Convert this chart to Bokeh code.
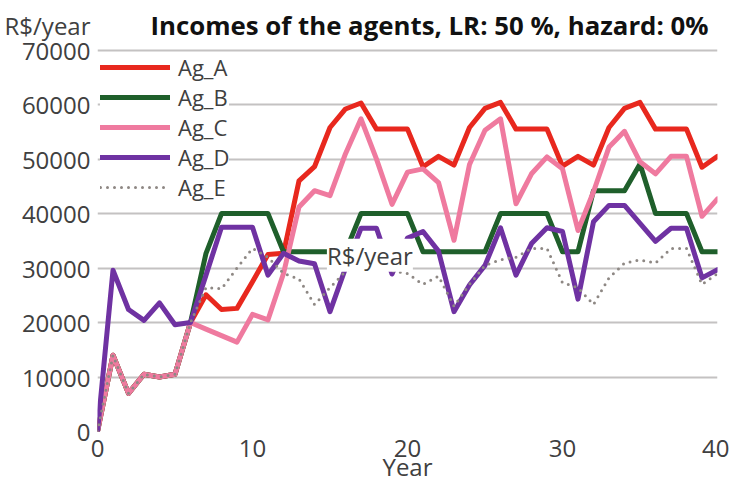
from bokeh.plotting import figure
from bokeh.models import Label, Range1d, FixedTicker, Legend, LegendItem
from bokeh.embed import file_html
from bokeh.resources import INLINE

years = list(range(41))
ag_a = [0, 14000, 7000, 10500, 10000, 10500, 20000, 25100, 22400, 22600, 27500,
        32500, 32700, 46000, 48600, 55800, 59200, 60300, 55500, 55500, 55500,
        48600, 50500, 48900, 55800, 59300, 60400, 55500, 55500, 55500, 48700,
        50500, 48900, 55800, 59300, 60400, 55500, 55500, 55500, 48500, 50500]
ag_b = [0, 14000, 7000, 10500, 10000, 10500, 20000, 32700, 40000, 40000, 40000,
        40000, 33000, 33000, 33000, 33000, 33000, 40000, 40000, 40000, 40000,
        33000, 33000, 33000, 33000, 33000, 40000, 40000, 40000, 40000, 33000,
        33000, 44200, 44200, 44200, 49100, 40000, 40000, 40000, 33000, 33000]
ag_c = [0, 14000, 7000, 10500, 10000, 10500, 20000, 18800, 17600, 16400, 21500,
        20500, 29000, 41200, 44200, 43300, 51000, 57400, 50000, 41700, 47600,
        48200, 45700, 35100, 49000, 55300, 57400, 41800, 47300, 50400, 48200,
        36900, 44000, 52200, 55100, 49500, 47300, 50500, 50500, 39500, 42700]
ag_d = [0, 29600, 22400, 20400, 23600, 19600, 20000, 28700, 37500, 37500, 37500,
        28700, 32700, 31300, 30800, 22000, 30000, 37300, 37300, 28900, 35500,
        36700, 33100, 22000, 26900, 30500, 37400, 28700, 34500, 37400, 36700,
        24300, 38500, 41500, 41500, 38200, 34900, 37300, 37300, 28200, 29700]
ag_e = [0, 14000, 7000, 10500, 10000, 10500, 20000, 26400, 26200, 30000, 33600,
        32000, 29000, 28000, 23300, 26400, 29400, 31000, 31000, 29500, 29000,
        27000, 28500, 23000, 27000, 30500, 31500, 32000, 33600, 33600, 27300,
        26400, 23300, 28200, 30900, 31500, 30900, 33600, 33600, 27000, 29000]

names = ["Ag_A", "Ag_B", "Ag_C", "Ag_D", "Ag_E"]
x_ticks = [0, 10, 20, 30, 40]
y_ticks = [0, 10000, 20000, 30000, 40000, 50000, 60000, 70000]

title_text = "Incomes of the agents, LR: 50 %, hazard: 0%"
unit_text = "R$/year"
x_label = "Year"

FONT = "Open Sans"
TXT = "#404040"

# the frame reaches up to the title row; the value axis still ends at 70000
Y_TOP = 77273
UNIT_Y = 74545

p = figure(width=729, height=485, output_backend="svg", toolbar_location=None,
           x_range=Range1d(0, 40), y_range=Range1d(0, Y_TOP),
           min_border_left=97, min_border_right=12, min_border_top=10,
           min_border_bottom=50)
p.outline_line_color = None
p.background_fill_color = "white"
p.border_fill_color = "white"

p.xgrid.visible = False
p.ygrid.grid_line_color = "#c4c2c2"
p.ygrid.grid_line_width = 2
p.ygrid.ticker = FixedTicker(ticks=y_ticks)

p.xaxis.ticker = FixedTicker(ticks=x_ticks)
p.xaxis.axis_line_color = None
p.xaxis.major_tick_line_color = None
p.xaxis.minor_tick_line_color = None
p.xaxis.major_tick_out = 0
p.xaxis.major_label_standoff = 8
p.xaxis.major_label_text_font = FONT
p.xaxis.major_label_text_font_size = "24px"
p.xaxis.major_label_text_color = TXT
p.xaxis.axis_label = x_label
p.xaxis.axis_label_text_font = FONT
p.xaxis.axis_label_text_font_size = "24px"
p.xaxis.axis_label_text_font_style = "normal"
p.xaxis.axis_label_text_color = TXT
p.xaxis.axis_label_standoff = -10

p.yaxis.ticker = FixedTicker(ticks=y_ticks + [UNIT_Y])
p.yaxis.major_label_overrides = {UNIT_Y: unit_text}
p.yaxis.axis_line_color = None
p.yaxis.major_tick_line_color = None
p.yaxis.major_tick_out = 0
p.yaxis.major_tick_in = 0
p.yaxis.minor_tick_line_color = None
p.yaxis.major_label_standoff = 7
p.yaxis.major_label_text_font = FONT
p.yaxis.major_label_text_font_size = "24px"
p.yaxis.major_label_text_color = TXT

styles = [
    dict(line_color="#e8281e", line_width=5),
    dict(line_color="#1f5f2b", line_width=5),
    dict(line_color="#ef7a9f", line_width=5),
    dict(line_color="#6f32a2", line_width=5),
    dict(line_color="#8e8884", line_width=3, line_dash="0 7"),
]
series = [ag_a, ag_b, ag_c, ag_d, ag_e]
items = []
for name, ys, st in zip(names, series, styles):
    r = p.line(years, ys, line_join="round", line_cap="round", **st)
    items.append(LegendItem(label=name, renderers=[r]))

legend = Legend(items=items, location=(3, 229), margin=0, padding=4,
                glyph_width=70, glyph_height=26, label_height=26, spacing=0,
                label_standoff=8, label_text_font=FONT,
                label_text_font_size="22px", label_text_color=TXT,
                background_fill_color="white", background_fill_alpha=1.0,
                border_line_color=None)
p.add_layout(legend, "center")

p.add_layout(Label(x=3.42, y=UNIT_Y, text=title_text, text_font=FONT,
                   text_font_style="bold", text_font_size="25.8px",
                   text_color="#111111", text_baseline="middle"))
p.add_layout(Label(x=14.8, y=32360, text=unit_text, text_font=FONT,
                   text_font_size="24px", text_color=TXT,
                   text_baseline="middle", background_fill_color="white",
                   background_fill_alpha=1.0))

open("out.html", "w").write(file_html(p, INLINE))
